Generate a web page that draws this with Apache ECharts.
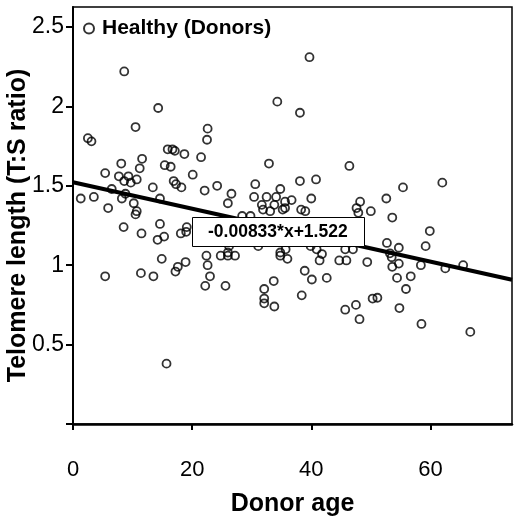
<!DOCTYPE html>
<html>
<head>
<meta charset="utf-8">
<script src="https://cdn.jsdelivr.net/npm/echarts@6/dist/echarts.min.js"></script>
<style>
html, body { margin: 0; padding: 0; background: #fff; }
#chart { width: 520px; height: 522px; }
</style>
</head>
<body>
<div id="chart"></div>
<script>
// donor age (years) and telomere length (T:S ratio)
var donorAge = [
    8.6, 39.7, 14.3, 34.3, 38.1, 10.5, 22.6, 2.5, 3.1, 22.5,
    15.9, 16.7, 17.1, 18.7, 21.5, 11.6, 8.1, 11.2, 15.4, 16.4,
    5.4, 20.1, 7.7, 9.3, 8.6, 9.7, 10.7, 16.9, 17.3, 18.2,
    13.4, 24.2, 30.6, 6.5, 1.3, 3.5, 8.2, 8.8, 14.6, 22.1,
    26.6, 26.0, 30.4, 5.9, 10.2, 10.7, 10.5, 8.5, 11.5, 14.6,
    14.2, 15.3, 18.1, 19.0, 19.1, 14.9, 5.4, 11.4, 13.5, 17.2,
    17.6, 18.9, 15.7, 22.2, 22.4, 22.6, 23.0, 25.6, 24.8, 26.0,
    27.2, 26.0, 34.8, 35.7, 34.8, 36.0, 33.7, 32.1, 32.1, 32.1,
    33.8, 38.9, 40.1, 38.4, 39.9, 40.9, 41.8, 41.4, 42.6, 32.9,
    34.8, 38.1, 40.8, 32.5, 34.1, 33.8, 35.6, 36.7, 31.7, 31.9,
    33.1, 35.2, 35.6, 40.0, 38.3, 39.0, 28.4, 29.8, 26.2, 31.1,
    46.4, 55.4, 62.0, 48.2, 47.6, 47.9, 50.0, 52.6, 53.6, 59.9,
    52.7, 54.7, 59.2, 45.7, 47.0, 44.7, 45.9, 49.4, 53.2, 53.5,
    53.6, 54.7, 58.4, 62.5, 65.5, 54.4, 56.7, 55.9, 50.3, 51.1,
    47.5, 45.7, 48.1, 54.8, 58.5, 66.7
];
var tsRatio = [
    2.22, 2.31, 1.99, 2.03, 1.96, 1.87, 1.86, 1.80, 1.78, 1.79,
    1.73, 1.73, 1.72, 1.70, 1.68, 1.67, 1.64, 1.61, 1.63, 1.62,
    1.58, 1.57, 1.56, 1.56, 1.53, 1.52, 1.54, 1.53, 1.51, 1.49,
    1.49, 1.50, 1.51, 1.48, 1.42, 1.43, 1.42, 1.45, 1.42, 1.47,
    1.45, 1.39, 1.43, 1.36, 1.39, 1.34, 1.32, 1.24, 1.20, 1.26,
    1.16, 1.18, 1.20, 1.21, 1.24, 1.04, 0.93, 0.95, 0.93, 0.96,
    0.99, 1.02, 0.38, 0.87, 1.06, 1.00, 0.93, 0.87, 1.06, 1.06,
    1.06, 1.08, 1.08, 1.10, 1.06, 1.04, 0.90, 0.85, 0.79, 0.76,
    0.74, 0.965, 0.91, 0.81, 1.12, 1.10, 1.07, 1.03, 0.92, 1.64,
    1.48, 1.53, 1.54, 1.43, 1.43, 1.38, 1.40, 1.41, 1.38, 1.35,
    1.34, 1.35, 1.36, 1.42, 1.35, 1.34, 1.31, 1.31, 1.12, 1.12,
    1.625, 1.49, 1.52, 1.40, 1.36, 1.33, 1.34, 1.42, 1.30, 1.215,
    1.14, 1.11, 1.12, 1.10, 1.10, 1.03, 1.03, 1.02, 1.075, 1.05,
    0.99, 1.01, 1.00, 0.98, 1.00, 0.92, 0.93, 0.85, 0.79, 0.795,
    0.75, 0.72, 0.66, 0.73, 0.63, 0.58
];
var seriesName = 'Healthy (Donors)';
var fitSlope = -0.00833;
var fitIntercept = 1.522;
var fitLabel = '-0.00833*x+1.522';
var xTicks = [0, 20, 40, 60];
var yTicks = [0, 0.5, 1, 1.5, 2, 2.5];
var yLabels = [0.5, 1, 1.5, 2, 2.5];
var xMax = 73.7;
var yMax = 2.626;

var FONT = '"Liberation Sans", Arial, sans-serif';

var points = donorAge.map(function (a, i) { return [a, tsRatio[i]]; });
var fitLine = [
    [0, fitIntercept],
    [xMax, fitIntercept + fitSlope * xMax]
];

var chart = echarts.init(document.getElementById('chart'));
chart.setOption({
    animation: false,
    backgroundColor: '#fff',
    grid: {
        left: 73, right: 8, top: 7, bottom: 98,
        outerBoundsMode: 'none',
        containLabel: false,
        show: true, borderColor: '#000', borderWidth: 1.5,
        backgroundColor: 'transparent'
    },
    legend: {
        left: 83, top: 18, padding: 0,
        itemWidth: 10, itemHeight: 10,
        textStyle: { fontFamily: FONT, fontSize: 21, fontWeight: 'bold', color: '#000', padding: [0, 0, 0, 3] },
        data: [{
            name: seriesName,
            icon: 'circle',
            itemStyle: { color: 'rgba(0,0,0,0)', borderColor: '#000', borderWidth: 2 }
        }]
    },
    xAxis: {
        type: 'value', min: 0, max: xMax, interval: 20,
        name: 'Donor age', nameLocation: 'middle', nameGap: 80, nameMoveOverlap: false,
        nameTextStyle: { fontFamily: FONT, fontSize: 25, fontWeight: 'bold', color: '#000', verticalAlign: 'middle' },
        axisLine: { lineStyle: { color: '#000', width: 2.5 } },
        axisTick: { show: true, customValues: xTicks, length: 6, lineStyle: { color: '#000', width: 2 } },
        axisLabel: { customValues: xTicks, margin: 35, fontFamily: FONT, fontSize: 22, color: '#000' },
        splitLine: { show: false }
    },
    yAxis: {
        type: 'value', min: 0, max: yMax, interval: 0.5,
        name: 'Telomere length (T:S ratio)', nameLocation: 'middle', nameGap: 55, nameRotate: 90,
        nameMoveOverlap: false,
        nameTextStyle: { fontFamily: FONT, fontSize: 25, fontWeight: 'bold', color: '#000',
                         verticalAlign: 'middle', padding: [0, 20, 0, 0] },
        axisLine: { lineStyle: { color: '#000', width: 2 } },
        axisTick: { show: true, customValues: yTicks, length: 7, lineStyle: { color: '#000', width: 2 } },
        axisLabel: { customValues: yLabels, margin: 9, fontFamily: FONT, fontSize: 23, color: '#000' },
        splitLine: { show: false }
    },
    series: [
        {
            name: seriesName,
            type: 'scatter',
            symbol: 'circle',
            symbolSize: 8,
            itemStyle: { color: 'rgba(0,0,0,0)', borderColor: '#000', borderWidth: 1.8 },
            data: points,
            z: 3
        },
        {
            name: 'fit',
            type: 'line',
            showSymbol: false,
            lineStyle: { color: '#000', width: 4 },
            data: fitLine,
            z: 2
        }
    ],
    graphic: [
        { type: 'rect', left: 192, top: 217, z: 100, zlevel: 1,
          shape: { width: 172, height: 29 },
          style: { fill: '#fff', stroke: '#000', lineWidth: 1 } },
        { type: 'text', left: 208, top: 223, z: 101, zlevel: 1,
          style: { text: fitLabel, font: 'bold 17.5px ' + FONT, fill: '#000' } }
    ]
});
</script>
</body>
</html>
